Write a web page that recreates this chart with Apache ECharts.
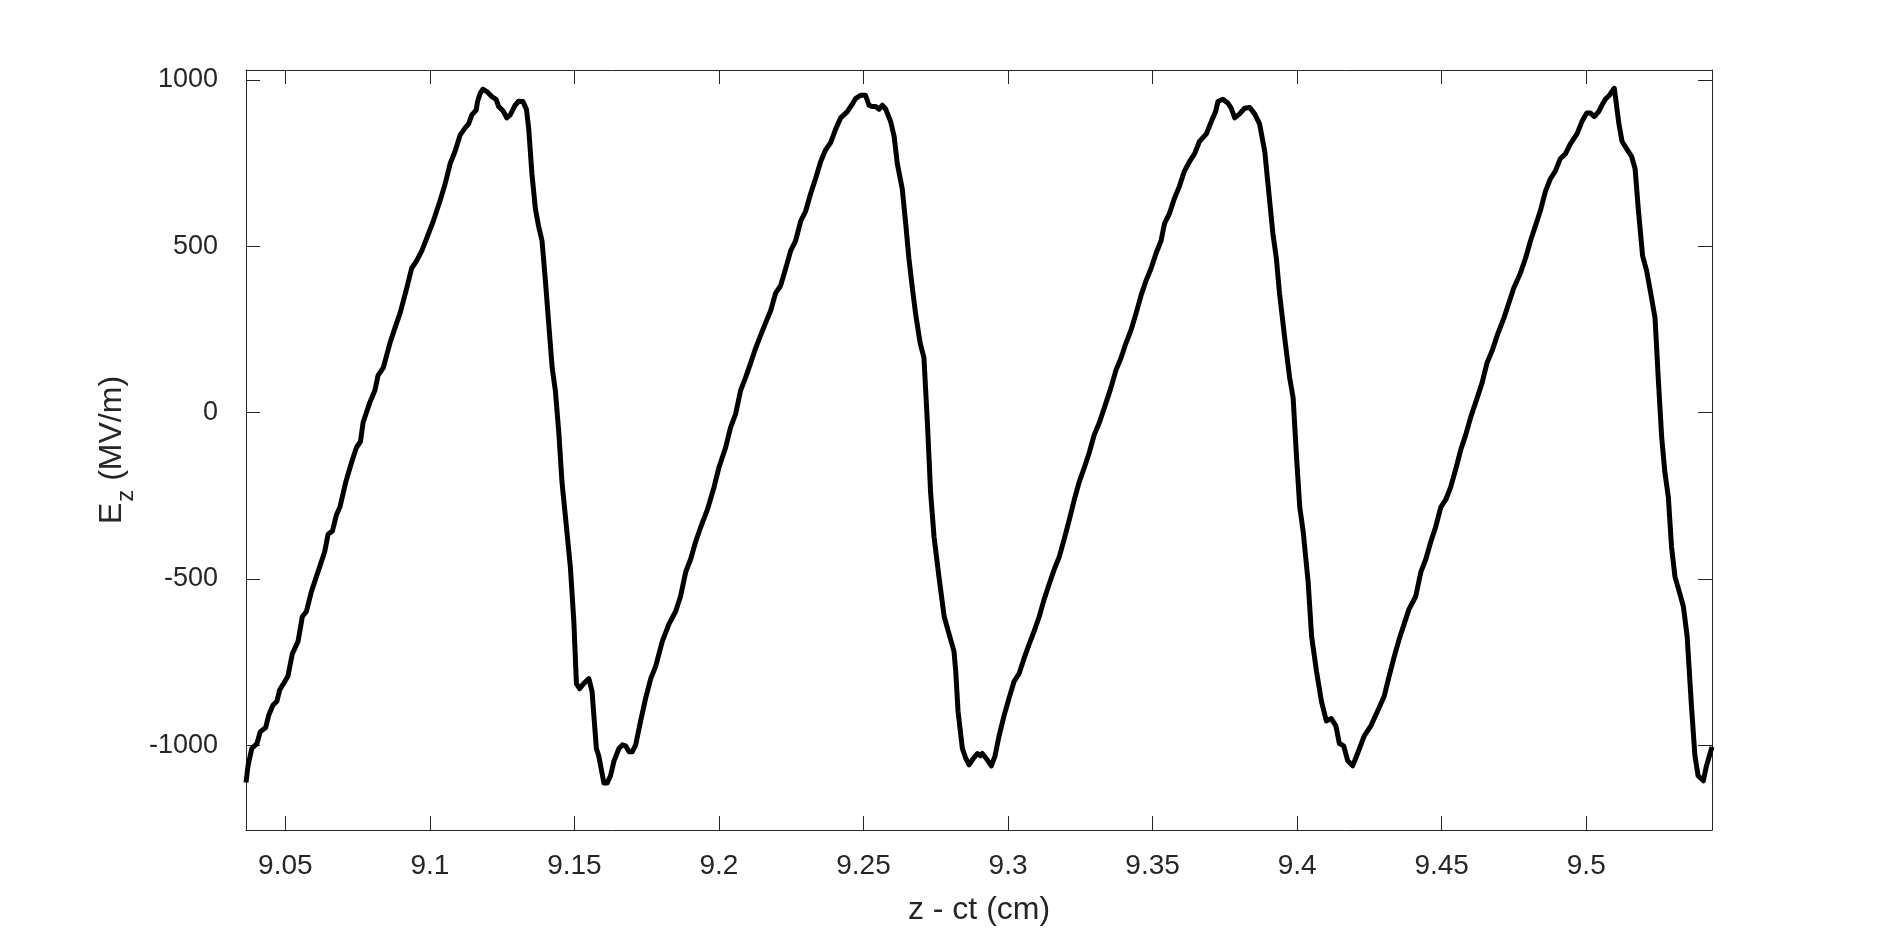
<!DOCTYPE html>
<html>

<head>
    <meta charset="utf-8" />
    <script src="https://cdn.jsdelivr.net/npm/echarts@6/dist/echarts.min.js"></script>
</head>

<body style="margin:0; background:#fff;">
    <div id="main" style="width: 1893px; height:934px;"></div>
    <script type="text/javascript">
        // z - ct (cm)
        var zPos = [
            9.0364, 9.0371, 9.0384, 9.0402, 9.0413, 9.0432, 9.0443, 9.0457, 9.0471, 9.0480,
            9.0509, 9.0524, 9.0544, 9.0559, 9.0573, 9.0590, 9.0613, 9.0636, 9.0648, 9.0663,
            9.0677, 9.0689, 9.0709, 9.0729, 9.0746, 9.0760, 9.0769, 9.0792, 9.0810, 9.0821,
            9.0839, 9.0862, 9.0879, 9.0897, 9.0920, 9.0937, 9.0954, 9.0972, 9.0989, 9.1012,
            9.1035, 9.1053, 9.1070, 9.1087, 9.1105, 9.1122, 9.1134, 9.1145, 9.1160, 9.1165,
            9.1174, 9.1183, 9.1197, 9.1214, 9.1229, 9.1238, 9.1255, 9.1266, 9.1278, 9.1295,
            9.1307, 9.1322, 9.1334, 9.1342, 9.1353, 9.1365, 9.1376, 9.1388, 9.1399, 9.1411,
            9.1423, 9.1434, 9.1446, 9.1457, 9.1469, 9.1486, 9.1498, 9.1507, 9.1518, 9.1532,
            9.1550, 9.1561, 9.1576, 9.1584, 9.1594, 9.1602, 9.1613, 9.1625, 9.1637, 9.1654,
            9.1666, 9.1677, 9.1689, 9.1700, 9.1712, 9.1729, 9.1746, 9.1764, 9.1781, 9.1804,
            9.1827, 9.1850, 9.1867, 9.1885, 9.1902, 9.1919, 9.1937, 9.1960, 9.1983, 9.2000,
            9.2023, 9.2040, 9.2058, 9.2075, 9.2092, 9.2110, 9.2127, 9.2144, 9.2161, 9.2179,
            9.2196, 9.2213, 9.2231, 9.2248, 9.2265, 9.2283, 9.2300, 9.2317, 9.2334, 9.2352,
            9.2369, 9.2386, 9.2404, 9.2421, 9.2444, 9.2461, 9.2473, 9.2490, 9.2507, 9.2519,
            9.2531, 9.2542, 9.2554, 9.2565, 9.2577, 9.2594, 9.2606, 9.2617, 9.2634, 9.2646,
            9.2657, 9.2669, 9.2681, 9.2696, 9.2709, 9.2721, 9.2732, 9.2744, 9.2761, 9.2779,
            9.2796, 9.2813, 9.2819, 9.2827, 9.2842, 9.2854, 9.2865, 9.2880, 9.2894, 9.2905,
            9.2911, 9.2928, 9.2942, 9.2955, 9.2969, 9.2986, 9.3003, 9.3021, 9.3038, 9.3055,
            9.3073, 9.3090, 9.3108, 9.3125, 9.3142, 9.3160, 9.3177, 9.3194, 9.3212, 9.3229,
            9.3246, 9.3264, 9.3281, 9.3298, 9.3316, 9.3339, 9.3356, 9.3373, 9.3391, 9.3408,
            9.3425, 9.3443, 9.3460, 9.3477, 9.3495, 9.3512, 9.3529, 9.3541, 9.3558, 9.3575,
            9.3593, 9.3610, 9.3628, 9.3645, 9.3662, 9.3686, 9.3703, 9.3718, 9.3726, 9.3743,
            9.3761, 9.3772, 9.3784, 9.3801, 9.3818, 9.3836, 9.3853, 9.3870, 9.3888, 9.3899,
            9.3916, 9.3928, 9.3939, 9.3957, 9.3974, 9.3986, 9.3998, 9.4009, 9.4021, 9.4038,
            9.4050, 9.4067, 9.4084, 9.4101, 9.4118, 9.4134, 9.4146, 9.4161, 9.4175, 9.4192,
            9.4209, 9.4232, 9.4255, 9.4278, 9.4301, 9.4318, 9.4336, 9.4353, 9.4370, 9.4387,
            9.4410, 9.4428, 9.4445, 9.4462, 9.4479, 9.4497, 9.4514, 9.4531, 9.4548, 9.4566,
            9.4583, 9.4600, 9.4623, 9.4640, 9.4657, 9.4675, 9.4692, 9.4715, 9.4732, 9.4749,
            9.4772, 9.4790, 9.4807, 9.4824, 9.4841, 9.4859, 9.4876, 9.4893, 9.4910, 9.4928,
            9.4945, 9.4968, 9.4985, 9.5002, 9.5014, 9.5028, 9.5043, 9.5054, 9.5066, 9.5080,
            9.5097, 9.5103, 9.5113, 9.5124, 9.5140, 9.5157, 9.5169, 9.5180, 9.5195, 9.5209,
            9.5223, 9.5238, 9.5249, 9.5261, 9.5272, 9.5284, 9.5295, 9.5307, 9.5322, 9.5336,
            9.5349, 9.5364, 9.5376, 9.5387, 9.5405, 9.5416, 9.5435
        ];

        // E_z (MV/m)
        var ezVals = [
            -1112, -1062, -1010, -995, -960, -947, -909, -880, -868, -835,
            -793, -726, -688, -613, -598, -539, -479, -419, -366, -356,
            -307, -284, -209, -150, -105, -87, -30, 30, 67, 112,
            135, 209, 254, 299, 374, 434, 456, 486, 524, 576,
            636, 688, 748, 785, 835, 856, 868, 895, 909, 935,
            960, 972, 965, 950, 942, 920, 905, 886, 895, 924,
            936, 935, 912, 853, 718, 613, 561, 516, 404, 269,
            135, 67, -60, -209, -314, -464, -628, -815, -830, -815,
            -800, -838, -1010, -1032, -1077, -1114, -1114, -1092, -1047, -1010,
            -999, -1002, -1020, -1020, -999, -927, -860, -800, -763, -688,
            -636, -598, -553, -479, -441, -389, -344, -292, -224, -165,
            -105, -45, -3, 67, 105, 150, 194, 232, 269, 307,
            359, 381, 434, 486, 516, 576, 606, 658, 703, 755,
            790, 811, 853, 886, 905, 927, 945, 954, 954, 924,
            920, 920, 912, 924, 912, 875, 830, 748, 673, 568,
            464, 374, 292, 209, 165, -30, -239, -374, -494, -613,
            -666, -718, -778, -898, -1010, -1040, -1059, -1040, -1025, -1032,
            -1025, -1044, -1062, -1032, -972, -912, -860, -808, -785, -740,
            -696, -658, -613, -561, -516, -471, -434, -381, -322, -262,
            -209, -165, -120, -67, -30, 30, 75, 127, 165, 209,
            247, 299, 352, 396, 434, 479, 516, 568, 598, 643,
            681, 726, 755, 778, 815, 838, 875, 905, 935, 942,
            930, 915, 886, 898, 915, 917, 898, 868, 785, 688,
            539, 464, 359, 224, 105, 45, -135, -284, -359, -509,
            -673, -778, -868, -927, -920, -942, -995, -1002, -1047, -1062,
            -1025, -972, -942, -898, -853, -793, -733, -681, -636, -591,
            -553, -479, -441, -389, -344, -284, -262, -224, -172, -112,
            -67, -15, 45, 90, 150, 187, 232, 284, 329, 374,
            419, 464, 516, 561, 606, 666, 703, 726, 763, 778,
            808, 838, 875, 901, 901, 890, 905, 924, 942, 954,
            975, 935, 868, 815, 793, 770, 733, 613, 471, 426,
            359, 284, 105, -75, -180, -254, -404, -494, -539, -583,
            -673, -883, -1032, -1092, -1107, -1062, -1005
        ];

        // tick labels
        var xTicks = [9.05, 9.1, 9.15, 9.2, 9.25, 9.3, 9.35, 9.4, 9.45, 9.5];
        var yTicks = [-1000, -500, 0, 500, 1000];

        var xMin = 9.0364, xMax = 9.5435;
        var yMin = -1255, yMax = 1030;

        var axisColor = '#262626';
        var fontFam = '"Liberation Sans", Arial, Helvetica, sans-serif';

        var lineData = zPos.map(function (z, i) {
            return [z, ezVals[i]];
        });

        function makeX(pos, showLabel) {
            return {
                type: 'value',
                position: pos,
                min: xMin,
                max: xMax,
                axisLine: { show: true, onZero: false, lineStyle: { color: axisColor, width: 1 } },
                axisTick: { show: true, inside: true, length: 14, customValues: xTicks, lineStyle: { color: axisColor } },
                axisLabel: {
                    show: showLabel, customValues: xTicks, margin: 22,
                    color: axisColor, fontSize: 28, fontFamily: fontFam,
                    formatter: function (v) { return String(v); }
                },
                splitLine: { show: false }
            };
        }

        function makeY(pos, showLabel) {
            return {
                type: 'value',
                position: pos,
                min: yMin,
                max: yMax,
                axisLine: { show: true, onZero: false, lineStyle: { color: axisColor, width: 1 } },
                axisTick: { show: true, inside: true, length: 14, customValues: yTicks, lineStyle: { color: axisColor } },
                axisLabel: {
                    show: showLabel, customValues: yTicks, margin: 28,
                    color: axisColor, fontSize: 27, fontFamily: fontFam,
                    formatter: function (v) { return String(v); }
                },
                splitLine: { show: false }
            };
        }

        var myChart = echarts.init(document.getElementById('main'));

        var xBottom = makeX('bottom', true);
        xBottom.name = 'z - ct (cm)';
        xBottom.nameLocation = 'middle';
        xBottom.nameGap = 64;
        xBottom.nameTextStyle = { color: axisColor, fontSize: 32, fontFamily: fontFam };

        var yLeft = makeY('left', true);
        yLeft.name = '{b|E}{s|z}{b| (MV/m)}';
        yLeft.nameLocation = 'middle';
        yLeft.nameGap = 106;
        yLeft.nameTextStyle = {
            color: axisColor,
            fontFamily: fontFam,
            rich: {
                b: { fontSize: 32, lineHeight: 32, verticalAlign: 'top', color: axisColor, fontFamily: fontFam },
                s: { fontSize: 24, lineHeight: 24, padding: [18, 0, 0, 1], verticalAlign: 'top', color: axisColor, fontFamily: fontFam }
            }
        };

        var option = {
            backgroundColor: '#ffffff',
            animation: false,
            grid: {
                left: 246,
                right: 181,
                top: 70,
                bottom: 104
            },
            xAxis: [xBottom, makeX('top', false)],
            yAxis: [yLeft, makeY('right', false)],
            series: [
                {
                    type: 'line',
                    data: lineData,
                    showSymbol: false,
                    clip: true,
                    lineStyle: { color: '#000000', width: 5, join: 'round' }
                }
            ]
        };

        myChart.setOption(option);
    </script>
</body>

</html>
